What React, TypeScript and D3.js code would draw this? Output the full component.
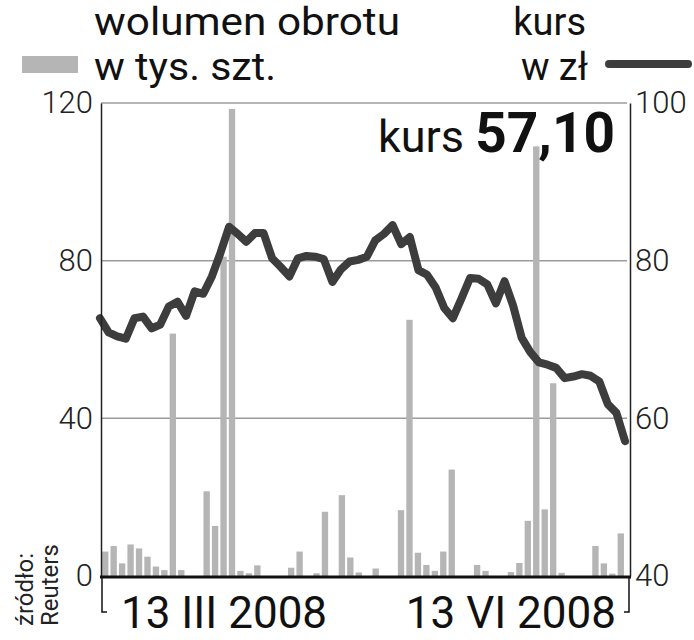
import React, { useEffect, useRef } from 'react';
import * as d3 from 'd3';

// wolumen obrotu w tys. szt. (dzienny)
const volume = [
  6.2, 7.6, 3.2, 8.0, 7.0, 4.9, 2.4, 1.5, 61.5, 1.5,
  0, 0, 21.5, 12.7, 81, 118.5, 1.3, 0.7, 2.7, 0,
  0, 0, 2.1, 6.2, 0, 0.7, 16.3, 0, 20.5, 4.7,
  0.9, 0, 1.9, 0, 0, 16.7, 65, 5.9, 2.8, 1.3,
  6.2, 27, 0, 0, 2.8, 1.3, 0, 0, 1.0, 3.3,
  14, 109, 16.9, 48.9, 0.8, 0, 0, 0, 7.6, 3.2,
  0.6, 10.8,
];

// kurs w zł
const kurs = [
  72.7, 70.9, 70.4, 70.1, 72.7, 72.9, 71.4, 71.9, 74.2, 74.8,
  73.0, 76.1, 75.8, 78.0, 81.0, 84.3, 83.4, 82.4, 83.5, 83.5,
  80.3, 79.2, 78.0, 80.3, 80.6, 80.5, 80.2, 77.3, 78.9, 79.9,
  80.1, 80.5, 82.6, 83.4, 84.5, 82.1, 83.0, 78.8, 78.2, 76.6,
  74.0, 72.7, 75.2, 77.8, 77.7, 77.0, 74.6, 77.4, 74.3, 70.2,
  68.4, 67.1, 66.8, 66.4, 65.1, 65.3, 65.6, 65.4, 64.7, 61.8,
  60.7, 57.1,
];

const volumeTicks = [0, 40, 80, 120];
const kursTicks = [40, 60, 80, 100];
const dateLabels = ['13 III 2008', '13 VI 2008'];
const lastKurs = '57,10';

export default function App() {
  const svgRef = useRef<SVGSVGElement>(null);

  const width = 694;
  const height = 640;
  const plot = { left: 101, right: 630, top: 103, bottom: 576 };

  useEffect(() => {
    const svg = d3.select(svgRef.current);
    svg.selectAll('*').remove();

    const idx = volume.map((_, i) => i);

    const xBand = d3.scaleBand<number>()
      .domain(idx)
      .range([plot.left, 625])
      .paddingInner(0.25)
      .paddingOuter(0.125);

    const xLine = d3.scalePoint<number>()
      .domain(kurs.map((_, i) => i))
      .range([100, 625]);

    const yVol = d3.scaleLinear().domain([0, 120]).range([plot.bottom, plot.top]);
    const yKurs = d3.scaleLinear().domain([40, 100]).range([plot.bottom, plot.top]);

    // grid lines
    svg.append('g')
      .selectAll('line')
      .data(volumeTicks.filter(d => d > 0))
      .join('line')
      .attr('x1', plot.left)
      .attr('x2', 627)
      .attr('y1', d => yVol(d))
      .attr('y2', d => yVol(d))
      .attr('stroke', '#9c9c9c')
      .attr('stroke-width', 1.5);

    // bars
    svg.append('g')
      .selectAll('rect')
      .data(volume)
      .join('rect')
      .attr('fill', '#b5b5b5')
      .attr('x', (_, i) => xBand(i)!)
      .attr('width', xBand.bandwidth())
      .attr('y', d => yVol(d))
      .attr('height', d => plot.bottom - yVol(d));

    // kurs line
    const line = d3.line<number>()
      .x((_, i) => xLine(i)!)
      .y(d => yKurs(d));

    svg.append('path')
      .datum(kurs)
      .attr('d', line)
      .attr('fill', 'none')
      .attr('stroke', '#3d3d3d')
      .attr('stroke-width', 8)
      .attr('stroke-linejoin', 'round')
      .attr('stroke-linecap', 'round');

    // side axes
    const leftAxis = d3.axisLeft(yVol).tickValues(volumeTicks).tickSize(0).tickPadding(8);
    const rightAxis = d3.axisRight(yKurs).tickValues(kursTicks).tickSize(0).tickPadding(5);

    const gl = svg.append('g')
      .attr('transform', `translate(${plot.left},0)`)
      .call(leftAxis);
    const gr = svg.append('g')
      .attr('transform', `translate(${plot.right},0)`)
      .call(rightAxis);

    [gl, gr].forEach(g => {
      g.select('.domain')
        .attr('stroke', '#222')
        .attr('stroke-width', 1.5);
      g.selectAll('text')
        .attr('font-family', 'Roboto, sans-serif')
        .attr('font-weight', 300)
        .attr('font-size', 31)
        .attr('fill', '#222');
    });

    // bottom axis
    svg.append('line')
      .attr('x1', plot.left - 1)
      .attr('x2', plot.right + 1)
      .attr('y1', plot.bottom + 1)
      .attr('y2', plot.bottom + 1)
      .attr('stroke', '#111')
      .attr('stroke-width', 3);

    // date bracket
    svg.append('path')
      .attr('d', `M${plot.left + 1},${plot.bottom + 2}V612H${plot.left + 6}M${plot.right - 1},${plot.bottom + 2}V612H${plot.right - 6}`)
      .attr('fill', 'none')
      .attr('stroke', '#111')
      .attr('stroke-width', 1.5);

    svg.append('g')
      .selectAll('text')
      .data(dateLabels)
      .join('text')
      .attr('x', (_, i) => (i === 0 ? 121 : 616))
      .attr('y', 628)
      .attr('text-anchor', (_, i) => (i === 0 ? 'start' : 'end'))
      .attr('font-family', 'Roboto, sans-serif')
      .attr('font-size', 44)
      .attr('fill', '#111')
      .text(d => d);

    // kurs value
    const kv = svg.append('text')
      .attr('x', 615)
      .attr('y', 152)
      .attr('text-anchor', 'end')
      .attr('font-family', 'Roboto, sans-serif')
      .attr('fill', '#111');
    kv.append('tspan').attr('font-size', 45).text('kurs ');
    kv.append('tspan').attr('font-size', 55).attr('font-weight', 'bold').text(lastKurs);

    // legend
    const legendFont = 'Roboto, sans-serif';
    const legendSize = 38;
    svg.append('rect')
      .attr('x', 22).attr('y', 56).attr('width', 56).attr('height', 17)
      .attr('fill', '#b5b5b5');
    svg.append('text').attr('x', 94).attr('y', 35)
      .attr('font-family', legendFont).attr('font-size', legendSize).attr('fill', '#111')
      .attr('textLength', 306).attr('lengthAdjust', 'spacingAndGlyphs')
      .text('wolumen obrotu');
    svg.append('text').attr('x', 94).attr('y', 80)
      .attr('font-family', legendFont).attr('font-size', legendSize).attr('fill', '#111')
      .attr('textLength', 182).attr('lengthAdjust', 'spacingAndGlyphs')
      .text('w tys. szt.');
    svg.append('text').attr('x', 586).attr('y', 35).attr('text-anchor', 'end')
      .attr('font-family', legendFont).attr('font-size', legendSize).attr('fill', '#111')
      .text('kurs');
    svg.append('text').attr('x', 588).attr('y', 80).attr('text-anchor', 'end')
      .attr('font-family', legendFont).attr('font-size', legendSize).attr('fill', '#111')
      .text('w zł');
    svg.append('line')
      .attr('x1', 609).attr('x2', 688).attr('y1', 64).attr('y2', 64)
      .attr('stroke', '#3d3d3d').attr('stroke-width', 8).attr('stroke-linecap', 'round');

    // source
    const src = svg.append('text')
      .attr('transform', 'translate(33,626) rotate(-90)')
      .attr('font-family', legendFont)
      .attr('font-size', 24)
      .attr('fill', '#222');
    src.append('tspan').attr('x', 0).attr('y', 0).text('źródło:');
    src.append('tspan').attr('x', 0).attr('y', 25).text('Reuters');
  });

  return (
    <svg
      ref={svgRef}
      width={width}
      height={height}
      style={{ position: 'absolute', left: 0, top: 0, background: '#fff' }}
    />
  );
}
